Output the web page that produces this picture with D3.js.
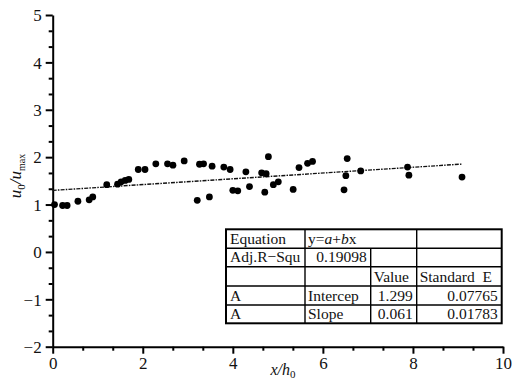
<!DOCTYPE html>
<html><head><meta charset="utf-8">
<script src="https://cdn.jsdelivr.net/npm/d3@7"></script>
<style>
html,body{margin:0;padding:0;background:#fff;}
svg{display:block;}
svg text{font-family:"Liberation Serif","Times New Roman",serif !important;}
</style></head>
<body><svg id="c" width="512" height="383"></svg>
<script>
// ---- data ----
const xVals = [0.04,0.22,0.32,0.56,0.81,0.89,1.20,1.44,1.52,1.61,1.69,1.90,2.05,2.29,2.55,2.67,2.92,3.26,3.35,3.54,3.80,3.94,4.29,4.64,4.74,4.79,3.21,3.48,4.00,4.11,4.37,4.71,4.90,5.01,5.34,5.47,5.66,5.77,6.54,6.51,6.47,6.84,7.88,7.91,9.09];
const yVals = [1.00,0.98,0.98,1.07,1.10,1.16,1.42,1.43,1.48,1.51,1.53,1.74,1.74,1.86,1.86,1.83,1.92,1.85,1.86,1.81,1.79,1.74,1.69,1.67,1.65,2.01,1.09,1.16,1.30,1.29,1.38,1.26,1.42,1.48,1.32,1.78,1.87,1.91,1.97,1.61,1.31,1.71,1.79,1.62,1.58];
const fitIntercept = 1.299;
const fitSlope = 0.061;
const fitRange = [0, 9.1];
const xTicks = [0,2,4,6,8,10];
const yTicks = [-2,-1,0,1,2,3,4,5];
const tableRows = [
  ["Equation", "y=a+bx", null, ""],
  ["Adj.R\u2212Squ", "0.19098", "", ""],
  ["", "", "Value", "Standard  E"],
  ["A", "Intercep", "1.299", "0.07765"],
  ["A", "Slope", "0.061", "0.01783"]
];

// ---- layout ----
const svg = d3.select("#c");
const x = d3.scaleLinear().domain([0,10]).range([52.7,503]);
const y = d3.scaleLinear().domain([-2,5]).range([346.7,15]);

const xMinor = d3.range(0,10.001,2/3).filter(v => !xTicks.some(t => Math.abs(t-v)<1e-6));
const yMinor = d3.range(-2,5.001,1/3).filter(v => !yTicks.some(t => Math.abs(t-v)<1e-6));

// minor ticks
svg.append("g").attr("transform",`translate(0,${y(-2)})`)
  .call(d3.axisBottom(x).tickValues(xMinor).tickSize(4).tickSizeOuter(0).tickFormat(""))
  .call(g=>g.select(".domain").remove())
  .call(g=>g.selectAll("line").attr("stroke","#000").attr("stroke-width",2));
svg.append("g").attr("transform",`translate(${x(0)},0)`)
  .call(d3.axisLeft(y).tickValues(yMinor).tickSize(4).tickSizeOuter(0).tickFormat(""))
  .call(g=>g.select(".domain").remove())
  .call(g=>g.selectAll("line").attr("stroke","#000").attr("stroke-width",2));

// major axes
const fmt = d => d < 0 ? "\u2212" + Math.abs(d) : String(d);
const gx = svg.append("g").attr("transform",`translate(0,${y(-2)})`)
  .call(d3.axisBottom(x).tickValues(xTicks).tickSize(7).tickSizeOuter(0).tickPadding(3).tickFormat(fmt));
const gy = svg.append("g").attr("transform",`translate(${x(0)},0)`)
  .call(d3.axisLeft(y).tickValues(yTicks).tickSize(7).tickSizeOuter(0).tickPadding(4).tickFormat(fmt));
[gx,gy].forEach(g=>{
  g.attr("font-family",null);
  g.select(".domain").attr("stroke","#000").attr("stroke-width",2);
  g.selectAll("line").attr("stroke","#000").attr("stroke-width",2);
  g.selectAll("text").attr("font-size",17).attr("fill","#111");
});
gy.selectAll("text").attr("dy","0.34em");

// fit line
svg.append("line")
  .attr("x1",x(fitRange[0])).attr("y1",y(fitIntercept+fitSlope*fitRange[0]))
  .attr("x2",x(fitRange[1])).attr("y2",y(fitIntercept+fitSlope*fitRange[1]))
  .attr("stroke","#111").attr("stroke-width",1.4).attr("stroke-dasharray","4,1.2,1.5,1.2");

// points
svg.append("g").selectAll("circle").data(xVals.map((v,i)=>[v,yVals[i]])).join("circle")
  .attr("cx",d=>x(d[0])).attr("cy",d=>y(d[1])).attr("r",3.4).attr("fill","#000");

// axis titles
const xt = svg.append("text").attr("x",283).attr("y",375).attr("text-anchor","middle")
  .attr("font-size",16).attr("font-style","italic").attr("fill","#111");
xt.append("tspan").text("x/h");
xt.append("tspan").attr("font-size",11).attr("dy",3).attr("font-style","normal").text("0");

const yt = svg.append("text").attr("transform","translate(21,176) rotate(-90)").attr("text-anchor","middle")
  .attr("font-size",17).attr("fill","#111");
yt.append("tspan").attr("font-style","italic").text("u");
yt.append("tspan").attr("font-size",11).attr("dy",4).text("0");
yt.append("tspan").attr("dy",-4).attr("font-style","italic").text("/u");
yt.append("tspan").attr("font-size",10).attr("dy",4).text("max");

// table
const colX = [226,305,370.7,416.7,501.7];
const rowY = [229.3,248.3,266.7,286,305,323.3];
const tg = svg.append("g").attr("font-size",15.5).attr("fill","#111");
tg.append("rect").attr("x",colX[0]).attr("y",rowY[0]).attr("width",colX[4]-colX[0]).attr("height",rowY[5]-rowY[0])
  .attr("fill","#fff").attr("stroke","#000").attr("stroke-width",2);
rowY.slice(1,5).forEach(ry=>tg.append("line").attr("x1",colX[0]).attr("x2",colX[4]).attr("y1",ry).attr("y2",ry).attr("stroke","#000").attr("stroke-width",1.4));
[1,2,3].forEach(ci=>{
  const startRow = ci===2 ? 1 : 0;
  tg.append("line").attr("x1",colX[ci]).attr("x2",colX[ci]).attr("y1",rowY[startRow]).attr("y2",rowY[5]).attr("stroke","#000").attr("stroke-width",1.4);
});
const isNum = s => /^[0-9.]+$/.test(s);
tableRows.forEach((row,ri)=>{
  row.forEach((cell,ci)=>{
    if(cell===null || cell==="") return;
    const by = rowY[ri+1]-4.3;
    if(ri===0 && ci===1){
      const t = tg.append("text").attr("x",colX[1]+3).attr("y",by);
      t.append("tspan").text("y=");
      t.append("tspan").attr("font-style","italic").text("a");
      t.append("tspan").text("+");
      t.append("tspan").attr("font-style","italic").text("b");
      t.append("tspan").text("x");
      return;
    }
    const num = isNum(cell);
    tg.append("text").attr("xml:space","preserve").style("white-space","pre")
      .attr("x", num ? colX[ci+1]-4 : colX[ci]+(ci===0?4:3))
      .attr("y", by).attr("text-anchor", num ? "end":"start").text(cell);
  });
});
</script></body></html>
